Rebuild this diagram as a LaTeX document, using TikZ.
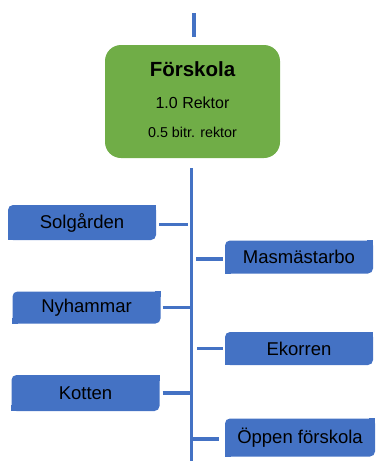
\documentclass[tikz,border=0pt]{standalone}
\usepackage{fontspec}
\setmainfont{Liberation Sans}
\definecolor{boxblue}{HTML}{4472C4}
\definecolor{boxgreen}{HTML}{70AD47}
\begin{document}
\begin{tikzpicture}[x=1pt,y=-1pt,
  conn/.style={draw=boxblue,line width=3.2pt},
  rootbox/.style={fill=boxgreen,draw=none,rounded corners=16pt,minimum width=175pt,minimum height=113pt,inner sep=0pt},
  leaf/.style={fill=boxblue,draw=none,rounded corners=5pt,minimum width=148pt,inner sep=0pt,font=\fontsize{18.5}{20}\selectfont,text=black}]
\useasboundingbox (0,0) rectangle (380,461);
% root
\node[rootbox] (root) at (192.5,101.5) {};
\node[font=\bfseries\fontsize{20.5}{22}\selectfont,anchor=base] (t1) at (192.5,76) {Förskola};
\node[font=\fontsize{16}{18}\selectfont,anchor=base] (t2) at (192.5,108) {1.0 Rektor};
\node[font=\fontsize{14.3}{16}\selectfont,anchor=base] (t3) at (192.5,137) {0.5 bitr. rektor};
% leaves
\node[leaf,minimum height=35pt] (sol) at (82,222.5) {Solgården};
\node[leaf,minimum height=32pt] (nyh) at (86.5,307.5) {Nyhammar};
\node[leaf,minimum height=36pt] (kot) at (85.5,393) {Kotten};
\node[leaf,minimum height=33pt] (mas) at (299,257) {Masmästarbo};
\node[leaf,minimum height=33pt] (eko) at (299,348.5) {Ekorren};
\node[leaf,minimum height=38pt,minimum width=150pt] (opp) at (300,437.5) {Öppen förskola};
% square off top-right and bottom-left corners
\foreach \n in {sol,nyh,kot,mas,eko,opp}{
  \fill[boxblue] (\n.north east) rectangle ++(-6,6);
  \fill[boxblue] (\n.south west) rectangle ++(6,-6);
}
% trunk
\coordinate (top) at (194,13);
\coordinate (topb) at (194,37);
\coordinate (ttop) at (191.5,168);
\coordinate (tbot) at (191.5,461);
\draw[conn] (top) -- (topb);
\draw[conn] (ttop) -- (tbot);
% branches
\draw[conn] ([xshift=3pt,yshift=-2pt]sol.east) -- ([xshift=-4pt,yshift=-2pt]sol.east -| ttop);
\draw[conn] ([xshift=2pt]nyh.east) -- (nyh.east -| ttop);
\draw[conn] ([xshift=3pt]kot.east) -- (kot.east -| ttop);
\draw[conn] ([xshift=-2pt,yshift=-2pt]mas.west) -- ([xshift=4pt,yshift=-2pt]mas.west -| ttop);
\draw[conn] ([xshift=-2pt]eko.west) -- ([xshift=5pt]eko.west -| ttop);
\draw[conn] ([xshift=-6pt,yshift=-1.5pt]opp.west) -- ([yshift=-1.5pt]opp.west -| ttop);
\end{tikzpicture}
\end{document}
